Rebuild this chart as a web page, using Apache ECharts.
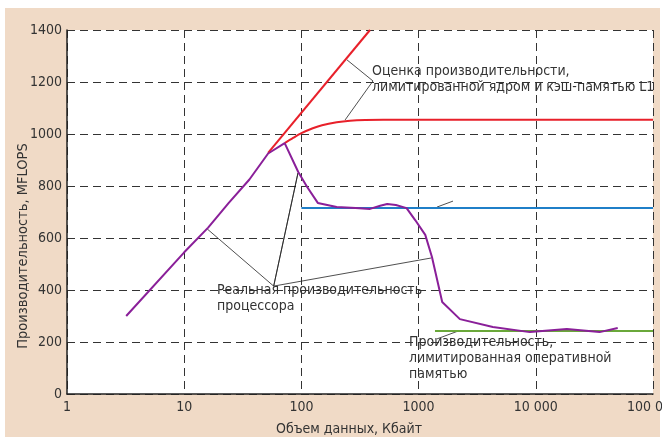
<!DOCTYPE html>
<html>
<head>
<meta charset="utf-8">
<script src="https://cdn.jsdelivr.net/npm/echarts@6/dist/echarts.min.js"></script>
<style>
    html, body { margin: 0; padding: 0; background: #fff; }
    #chart { width: 662px; height: 437px; }
</style>
</head>
<body>
<div id="chart"></div>
<script>
var FONT = "'DejaVu Sans Condensed', 'Liberation Sans', sans-serif";

// оси
var xTickLabels = ['1', '10', '100', '1000', '10 000', '100 000'];
var yTicks = [0, 200, 400, 600, 800, 1000, 1200, 1400];

// реальная производительность процессора [Кбайт, MFLOPS]
var realPerf = [
    [3.2, 300], [10, 545], [16, 640], [24, 735], [36, 825], [52, 925], [72, 965],
    [94, 854], [112, 796], [138, 735], [200, 719], [290, 715], [385, 712], [470, 724],
    [540, 731], [640, 727], [790, 715], [935, 669], [1140, 612], [1300, 527],
    [1590, 354], [2250, 288], [4300, 258], [8900, 238], [18400, 250], [35000, 238], [50000, 254]
];
// оценка, лимитированная ядром (прямая) и кэш-памятью L1 (кривая)
var coreLimit = [[52, 927], [385, 1400]];
var l1Limit = [
    [72, 965], [85, 985], [100, 1003], [125, 1022], [150, 1034], [200, 1045],
    [260, 1051], [350, 1054], [500, 1055], [100000, 1055]
];
var cacheLevel = [[100, 715], [100000, 715]];
var ramLevel = [[1380, 242], [100000, 242]];

// выноски
var leaderL1 = [[245, 1285], [408, 1204], [236, 1054]];
var leaderReal = [[15.7, 635], [58, 415], [93.5, 850], [58, 415], [1276, 523]];
var leaderCache = [[1436, 719], [1966, 742]];
var leaderRam = [[2170, 242], [1436, 212]];

var myChart = echarts.init(document.getElementById('chart'), null, {renderer: 'canvas'});

function leader(data) {
    return {
        type: 'line', data: data, symbol: 'none', silent: true, z: 1,
        lineStyle: {color: '#222', width: 0.8}
    };
}

function note(x, y, text) {
    return {
        type: 'text', x: x, y: y, z: 10,
        style: {text: text, fill: '#333', font: '14px ' + FONT, lineHeight: 16, verticalAlign: 'top'}
    };
}

myChart.setOption({
    backgroundColor: '#fff',
    animation: false,
    textStyle: {fontFamily: FONT},
    grid: {
        left: 67, top: 30, right: 9, bottom: 43,
        containLabel: false, outerBoundsMode: 'none',
        show: true, backgroundColor: '#fff', borderWidth: 0
    },
    graphic: [
        {type: 'rect', z: -100, shape: {x: 5, y: 8, width: 655, height: 429}, style: {fill: '#f0dac6'}},
        note(372, 63, 'Оценка производительности,\nлимитированной ядром и кэш-памятью L1'),
        note(217, 282, 'Реальная производительность\nпроцессора'),
        note(409, 334, 'Производительность,\nлимитированная оперативной\nпамятью')
    ],
    xAxis: {
        type: 'log', logBase: 10, min: 1, max: 100000,
        name: 'Объем данных, Кбайт', nameLocation: 'middle', nameGap: 28,
        nameTextStyle: {color: '#333', fontSize: 14, fontFamily: FONT, padding: [0, 22, 0, 0]},
        axisLine: {lineStyle: {color: '#222', width: 1.5}},
        axisTick: {show: false},
        axisLabel: {
            color: '#333', fontSize: 14, fontFamily: FONT, margin: 6,
            formatter: function (v) {
                return xTickLabels[Math.round(Math.log10(v))];
            }
        },
        splitLine: {show: true, lineStyle: {color: '#333', type: [8, 5], width: 1}},
        minorTick: {show: false}
    },
    yAxis: {
        type: 'value', min: yTicks[0], max: yTicks[yTicks.length - 1], interval: 200,
        name: 'Производительность, MFLOPS', nameLocation: 'middle', nameGap: 36,
        nameMoveOverlap: false,
        nameTextStyle: {color: '#333', fontSize: 14.5, fontFamily: FONT, padding: [0, 68, 0, 0]},
        axisLine: {show: true, lineStyle: {color: '#222', width: 1.5}},
        axisTick: {show: false},
        axisLabel: {
            color: '#333', fontSize: 14, fontFamily: FONT, margin: 5,
            formatter: function (v) { return String(v); }
        },
        splitLine: {show: true, lineStyle: {color: '#333', type: [8, 5], width: 1}}
    },
    series: [
        {type: 'line', data: coreLimit, symbol: 'none', z: 3, lineStyle: {color: '#e8202a', width: 2}},
        {type: 'line', data: l1Limit, symbol: 'none', smooth: 0.3, z: 3, lineStyle: {color: '#e8202a', width: 2}},
        {type: 'line', data: cacheLevel, symbol: 'none', z: 3, lineStyle: {color: '#1f7fc8', width: 2}},
        {type: 'line', data: ramLevel, symbol: 'none', z: 3, lineStyle: {color: '#6aa83a', width: 2}},
        {type: 'line', data: realPerf, symbol: 'none', z: 4, lineStyle: {color: '#8a1f99', width: 2}},
        leader(leaderL1),
        leader(leaderReal),
        leader(leaderCache),
        leader(leaderRam)
    ]
});
</script>
</body>
</html>
